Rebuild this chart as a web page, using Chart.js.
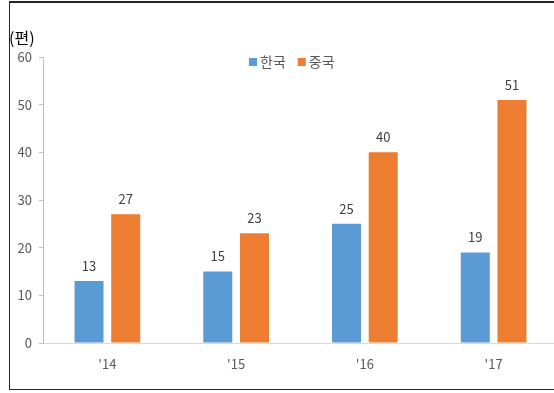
<!DOCTYPE html>
<html>
<head>
<meta charset="utf-8">
<script src="https://cdn.jsdelivr.net/npm/chart.js@4/dist/chart.umd.min.js"></script>
<style>
  html, body { margin: 0; padding: 0; background: #fff; }
  #wrap { position: relative; width: 554px; height: 393px; overflow: hidden; }
  #frame {
    position: absolute; left: 9px; top: 1px; width: 560px; height: 389px;
    border: 1px solid #262626; border-top-width: 2px; box-sizing: border-box;
  }
  canvas { position: absolute; left: 0; top: 0; }
</style>
</head>
<body>
<div id="wrap">
  <canvas id="c" width="558" height="393"></canvas>
  <div id="frame"></div>
</div>
<script>
// papers per year
var years = ["'14", "'15", "'16", "'17"];
var korea = [13, 15, 25, 19];
var china = [27, 23, 40, 51];
var seriesNames = ['한국', '중국'];
var yTicks = [0, 10, 20, 30, 40, 50, 60];
var unitLabel = '(편)';

var BLUE = '#5B9BD5';
var ORANGE = '#ED7D31';
var GREY = '#595959';
var KR_FONT = "'Noto Sans CJK KR', 'Noto Sans', sans-serif";

// value labels above bars, unit label and top legend
var overlay = {
  id: 'overlay',
  afterDatasetsDraw: function(chart) {
    var ctx = chart.ctx;
    ctx.save();
    ctx.fillStyle = '#404040';
    ctx.font = '13px ' + KR_FONT;
    ctx.textAlign = 'center';
    ctx.textBaseline = 'middle';
    chart.data.datasets.forEach(function(ds, i) {
      chart.getDatasetMeta(i).data.forEach(function(bar, j) {
        ctx.fillText(String(ds.data[j]), bar.x, bar.y - 15);
      });
    });

    // unit
    ctx.fillStyle = '#000';
    ctx.font = '16px ' + KR_FONT;
    ctx.textAlign = 'left';
    ctx.fillText(unitLabel, 9, 38);

    // legend
    ctx.font = '14px ' + KR_FONT;
    var x = 249, y = 62;
    chart.data.datasets.forEach(function(ds) {
      ctx.fillStyle = ds.backgroundColor;
      ctx.fillRect(x, y - 4, 8, 8);
      ctx.fillStyle = GREY;
      ctx.fillText(ds.label, x + 11, y);
      x += 11 + ctx.measureText(ds.label).width + 12;
    });
    ctx.restore();
  }
};

new Chart(document.getElementById('c'), {
  type: 'bar',
  data: {
    labels: years,
    datasets: [
      { label: seriesNames[0], data: korea, backgroundColor: BLUE },
      { label: seriesNames[1], data: china, backgroundColor: ORANGE }
    ]
  },
  options: {
    responsive: false,
    animation: false,
    categoryPercentage: 0.57,
    barPercentage: 0.79,
    layout: { padding: { left: 9, top: 57, right: 0, bottom: 0 } },
    plugins: { legend: { display: false }, tooltip: { enabled: false } },
    scales: {
      x: {
        grid: { display: false },
        border: { color: '#d9d9d9' },
        ticks: { color: GREY, font: { family: KR_FONT, size: 13 }, padding: 5 },
        afterFit: function(s) { s.height = 50; }
      },
      y: {
        min: 0, max: 60,
        afterBuildTicks: function(s) { s.ticks = yTicks.map(function(v) { return { value: v }; }); },
        grid: { drawOnChartArea: false, drawTicks: true, tickLength: 4, color: '#bfbfbf' },
        border: { color: '#bfbfbf' },
        ticks: { color: GREY, font: { family: KR_FONT, size: 13 }, padding: 7 },
        afterFit: function(s) { s.width = 34; }
      }
    }
  },
  plugins: [overlay]
});
</script>
</body>
</html>
